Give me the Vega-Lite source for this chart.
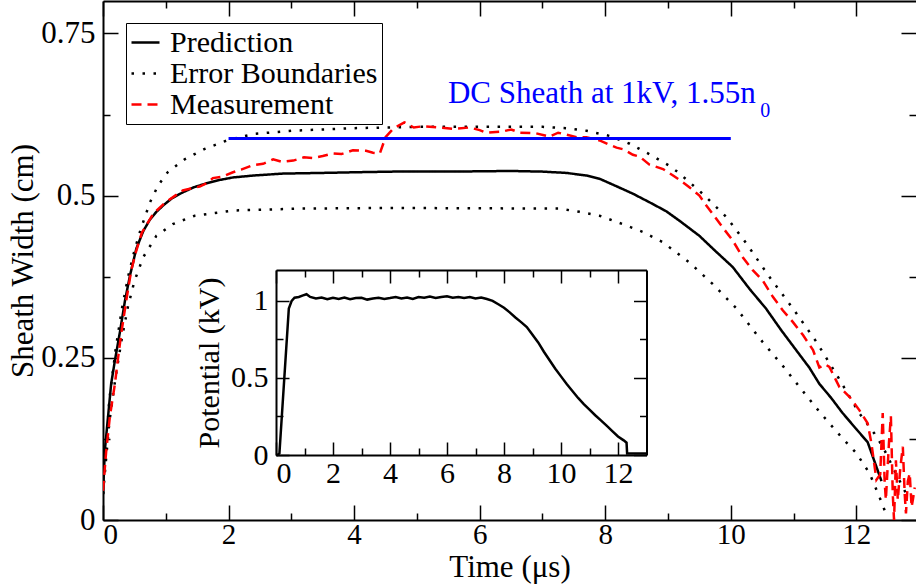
{
  "$schema": "https://vega.github.io/schema/vega-lite/v6.json",
  "width": 813,
  "height": 519,
  "autosize": {"type": "none"},
  "padding": {"left": 103, "top": 1, "right": 0, "bottom": 67},
  "background": "white",
  "config": {
    "view": {"stroke": null},
    "font": "Liberation Serif",
    "axis": {
      "grid": false,
      "domainColor": "black",
      "domainWidth": 2,
      "tickColor": "black",
      "tickWidth": 1.5,
      "labelColor": "black",
      "titleColor": "black",
      "labelFont": "Liberation Serif",
      "titleFont": "Liberation Serif",
      "labelFontSize": 31,
      "titleFontSize": 31,
      "titleFontWeight": "normal"
    },
    "text": {"font": "Liberation Serif"}
  },
  "datasets": {
    "sheath": [
      {"series": "Prediction", "curve": "pred", "t": 0, "w": 0.04},
      {"series": "Prediction", "curve": "pred", "t": 0.03, "w": 0.108},
      {"series": "Prediction", "curve": "pred", "t": 0.08, "w": 0.159},
      {"series": "Prediction", "curve": "pred", "t": 0.13, "w": 0.21},
      {"series": "Prediction", "curve": "pred", "t": 0.19, "w": 0.246},
      {"series": "Prediction", "curve": "pred", "t": 0.27, "w": 0.29},
      {"series": "Prediction", "curve": "pred", "t": 0.35, "w": 0.338},
      {"series": "Prediction", "curve": "pred", "t": 0.43, "w": 0.377},
      {"series": "Prediction", "curve": "pred", "t": 0.53, "w": 0.418},
      {"series": "Prediction", "curve": "pred", "t": 0.64, "w": 0.445},
      {"series": "Prediction", "curve": "pred", "t": 0.74, "w": 0.462},
      {"series": "Prediction", "curve": "pred", "t": 0.85, "w": 0.475},
      {"series": "Prediction", "curve": "pred", "t": 0.96, "w": 0.485},
      {"series": "Prediction", "curve": "pred", "t": 1.1, "w": 0.496},
      {"series": "Prediction", "curve": "pred", "t": 1.27, "w": 0.505},
      {"series": "Prediction", "curve": "pred", "t": 1.45, "w": 0.513},
      {"series": "Prediction", "curve": "pred", "t": 1.65, "w": 0.519},
      {"series": "Prediction", "curve": "pred", "t": 1.85, "w": 0.524},
      {"series": "Prediction", "curve": "pred", "t": 2.07, "w": 0.528},
      {"series": "Prediction", "curve": "pred", "t": 2.4, "w": 0.531},
      {"series": "Prediction", "curve": "pred", "t": 2.87, "w": 0.534},
      {"series": "Prediction", "curve": "pred", "t": 3.5, "w": 0.535},
      {"series": "Prediction", "curve": "pred", "t": 4.0, "w": 0.536},
      {"series": "Prediction", "curve": "pred", "t": 4.62, "w": 0.537},
      {"series": "Prediction", "curve": "pred", "t": 5.5, "w": 0.537},
      {"series": "Prediction", "curve": "pred", "t": 6.5, "w": 0.538},
      {"series": "Prediction", "curve": "pred", "t": 7.0, "w": 0.537},
      {"series": "Prediction", "curve": "pred", "t": 7.38, "w": 0.535},
      {"series": "Prediction", "curve": "pred", "t": 7.7, "w": 0.531},
      {"series": "Prediction", "curve": "pred", "t": 7.91, "w": 0.526},
      {"series": "Prediction", "curve": "pred", "t": 8.12, "w": 0.517},
      {"series": "Prediction", "curve": "pred", "t": 8.44, "w": 0.503},
      {"series": "Prediction", "curve": "pred", "t": 8.7, "w": 0.49},
      {"series": "Prediction", "curve": "pred", "t": 8.97, "w": 0.476},
      {"series": "Prediction", "curve": "pred", "t": 9.2, "w": 0.46},
      {"series": "Prediction", "curve": "pred", "t": 9.5, "w": 0.438},
      {"series": "Prediction", "curve": "pred", "t": 9.75, "w": 0.415},
      {"series": "Prediction", "curve": "pred", "t": 10.03, "w": 0.39},
      {"series": "Prediction", "curve": "pred", "t": 10.3, "w": 0.356},
      {"series": "Prediction", "curve": "pred", "t": 10.56, "w": 0.326},
      {"series": "Prediction", "curve": "pred", "t": 10.8, "w": 0.293},
      {"series": "Prediction", "curve": "pred", "t": 11.04, "w": 0.262},
      {"series": "Prediction", "curve": "pred", "t": 11.25, "w": 0.235},
      {"series": "Prediction", "curve": "pred", "t": 11.41, "w": 0.21},
      {"series": "Prediction", "curve": "pred", "t": 11.6, "w": 0.188},
      {"series": "Prediction", "curve": "pred", "t": 11.78, "w": 0.165},
      {"series": "Prediction", "curve": "pred", "t": 12.0, "w": 0.14},
      {"series": "Prediction", "curve": "pred", "t": 12.18, "w": 0.12},
      {"series": "Prediction", "curve": "pred", "t": 12.4, "w": 0.06},

      {"series": "Error Boundaries", "curve": "upper", "t": 0, "w": 0.04},
      {"series": "Error Boundaries", "curve": "upper", "t": 0.1, "w": 0.185},
      {"series": "Error Boundaries", "curve": "upper", "t": 0.2, "w": 0.262},
      {"series": "Error Boundaries", "curve": "upper", "t": 0.3, "w": 0.325},
      {"series": "Error Boundaries", "curve": "upper", "t": 0.4, "w": 0.375},
      {"series": "Error Boundaries", "curve": "upper", "t": 0.5, "w": 0.415},
      {"series": "Error Boundaries", "curve": "upper", "t": 0.6, "w": 0.448},
      {"series": "Error Boundaries", "curve": "upper", "t": 0.75, "w": 0.49},
      {"series": "Error Boundaries", "curve": "upper", "t": 0.88, "w": 0.516},
      {"series": "Error Boundaries", "curve": "upper", "t": 1.03, "w": 0.536},
      {"series": "Error Boundaries", "curve": "upper", "t": 1.3, "w": 0.556},
      {"series": "Error Boundaries", "curve": "upper", "t": 1.62, "w": 0.572},
      {"series": "Error Boundaries", "curve": "upper", "t": 2.0, "w": 0.586},
      {"series": "Error Boundaries", "curve": "upper", "t": 2.4, "w": 0.595},
      {"series": "Error Boundaries", "curve": "upper", "t": 3.0, "w": 0.6},
      {"series": "Error Boundaries", "curve": "upper", "t": 4.0, "w": 0.604},
      {"series": "Error Boundaries", "curve": "upper", "t": 5.0, "w": 0.606},
      {"series": "Error Boundaries", "curve": "upper", "t": 6.0, "w": 0.606},
      {"series": "Error Boundaries", "curve": "upper", "t": 7.0, "w": 0.606},
      {"series": "Error Boundaries", "curve": "upper", "t": 7.38, "w": 0.604},
      {"series": "Error Boundaries", "curve": "upper", "t": 7.7, "w": 0.6},
      {"series": "Error Boundaries", "curve": "upper", "t": 8.07, "w": 0.592},
      {"series": "Error Boundaries", "curve": "upper", "t": 8.39, "w": 0.58},
      {"series": "Error Boundaries", "curve": "upper", "t": 8.7, "w": 0.564},
      {"series": "Error Boundaries", "curve": "upper", "t": 9.02, "w": 0.546},
      {"series": "Error Boundaries", "curve": "upper", "t": 9.16, "w": 0.536},
      {"series": "Error Boundaries", "curve": "upper", "t": 9.55, "w": 0.503},
      {"series": "Error Boundaries", "curve": "upper", "t": 9.93, "w": 0.467},
      {"series": "Error Boundaries", "curve": "upper", "t": 10.25, "w": 0.426},
      {"series": "Error Boundaries", "curve": "upper", "t": 10.62, "w": 0.374},
      {"series": "Error Boundaries", "curve": "upper", "t": 10.99, "w": 0.326},
      {"series": "Error Boundaries", "curve": "upper", "t": 11.36, "w": 0.275},
      {"series": "Error Boundaries", "curve": "upper", "t": 11.68, "w": 0.225},
      {"series": "Error Boundaries", "curve": "upper", "t": 12.05, "w": 0.164},
      {"series": "Error Boundaries", "curve": "upper", "t": 12.29, "w": 0.133},
      {"series": "Error Boundaries", "curve": "upper", "t": 12.42, "w": 0.113},
      {"series": "Error Boundaries", "curve": "upper", "t": 12.63, "w": 0.072},
      {"series": "Error Boundaries", "curve": "upper", "t": 12.79, "w": 0.041},

      {"series": "Error Boundaries", "curve": "lower", "t": 0, "w": 0.04},
      {"series": "Error Boundaries", "curve": "lower", "t": 0.1, "w": 0.15},
      {"series": "Error Boundaries", "curve": "lower", "t": 0.2, "w": 0.22},
      {"series": "Error Boundaries", "curve": "lower", "t": 0.3, "w": 0.28},
      {"series": "Error Boundaries", "curve": "lower", "t": 0.4, "w": 0.33},
      {"series": "Error Boundaries", "curve": "lower", "t": 0.5, "w": 0.368},
      {"series": "Error Boundaries", "curve": "lower", "t": 0.64, "w": 0.405},
      {"series": "Error Boundaries", "curve": "lower", "t": 0.85, "w": 0.438},
      {"series": "Error Boundaries", "curve": "lower", "t": 1.11, "w": 0.456},
      {"series": "Error Boundaries", "curve": "lower", "t": 1.46, "w": 0.469},
      {"series": "Error Boundaries", "curve": "lower", "t": 2.07, "w": 0.477},
      {"series": "Error Boundaries", "curve": "lower", "t": 3.13, "w": 0.48},
      {"series": "Error Boundaries", "curve": "lower", "t": 4.6, "w": 0.481},
      {"series": "Error Boundaries", "curve": "lower", "t": 7.27, "w": 0.48},
      {"series": "Error Boundaries", "curve": "lower", "t": 7.59, "w": 0.475},
      {"series": "Error Boundaries", "curve": "lower", "t": 7.91, "w": 0.469},
      {"series": "Error Boundaries", "curve": "lower", "t": 8.28, "w": 0.456},
      {"series": "Error Boundaries", "curve": "lower", "t": 8.6, "w": 0.444},
      {"series": "Error Boundaries", "curve": "lower", "t": 8.92, "w": 0.428},
      {"series": "Error Boundaries", "curve": "lower", "t": 9.34, "w": 0.397},
      {"series": "Error Boundaries", "curve": "lower", "t": 9.71, "w": 0.364},
      {"series": "Error Boundaries", "curve": "lower", "t": 10.09, "w": 0.326},
      {"series": "Error Boundaries", "curve": "lower", "t": 10.51, "w": 0.274},
      {"series": "Error Boundaries", "curve": "lower", "t": 10.85, "w": 0.235},
      {"series": "Error Boundaries", "curve": "lower", "t": 11.07, "w": 0.208},
      {"series": "Error Boundaries", "curve": "lower", "t": 11.41, "w": 0.167},
      {"series": "Error Boundaries", "curve": "lower", "t": 11.76, "w": 0.128},
      {"series": "Error Boundaries", "curve": "lower", "t": 12.0, "w": 0.103},
      {"series": "Error Boundaries", "curve": "lower", "t": 12.21, "w": 0.072},
      {"series": "Error Boundaries", "curve": "lower", "t": 12.37, "w": 0.035},
      {"series": "Error Boundaries", "curve": "lower", "t": 12.45, "w": 0.015},

      {"series": "Measurement", "curve": "meas", "t": 0, "w": 0.045},
      {"series": "Measurement", "curve": "meas", "t": 0.05, "w": 0.105},
      {"series": "Measurement", "curve": "meas", "t": 0.11, "w": 0.16},
      {"series": "Measurement", "curve": "meas", "t": 0.19, "w": 0.21},
      {"series": "Measurement", "curve": "meas", "t": 0.24, "w": 0.25},
      {"series": "Measurement", "curve": "meas", "t": 0.29, "w": 0.287},
      {"series": "Measurement", "curve": "meas", "t": 0.37, "w": 0.338},
      {"series": "Measurement", "curve": "meas", "t": 0.45, "w": 0.385},
      {"series": "Measurement", "curve": "meas", "t": 0.53, "w": 0.415},
      {"series": "Measurement", "curve": "meas", "t": 0.62, "w": 0.443},
      {"series": "Measurement", "curve": "meas", "t": 0.8, "w": 0.472},
      {"series": "Measurement", "curve": "meas", "t": 1.0, "w": 0.49},
      {"series": "Measurement", "curve": "meas", "t": 1.15, "w": 0.5},
      {"series": "Measurement", "curve": "meas", "t": 1.27, "w": 0.508},
      {"series": "Measurement", "curve": "meas", "t": 1.4, "w": 0.511},
      {"series": "Measurement", "curve": "meas", "t": 1.54, "w": 0.514},
      {"series": "Measurement", "curve": "meas", "t": 1.65, "w": 0.519},
      {"series": "Measurement", "curve": "meas", "t": 1.75, "w": 0.527},
      {"series": "Measurement", "curve": "meas", "t": 1.9, "w": 0.529},
      {"series": "Measurement", "curve": "meas", "t": 2.07, "w": 0.536},
      {"series": "Measurement", "curve": "meas", "t": 2.2, "w": 0.54},
      {"series": "Measurement", "curve": "meas", "t": 2.39, "w": 0.547},
      {"series": "Measurement", "curve": "meas", "t": 2.55, "w": 0.549},
      {"series": "Measurement", "curve": "meas", "t": 2.71, "w": 0.556},
      {"series": "Measurement", "curve": "meas", "t": 2.85, "w": 0.552},
      {"series": "Measurement", "curve": "meas", "t": 3.03, "w": 0.554},
      {"series": "Measurement", "curve": "meas", "t": 3.2, "w": 0.559},
      {"series": "Measurement", "curve": "meas", "t": 3.34, "w": 0.558},
      {"series": "Measurement", "curve": "meas", "t": 3.5, "w": 0.561},
      {"series": "Measurement", "curve": "meas", "t": 3.66, "w": 0.565},
      {"series": "Measurement", "curve": "meas", "t": 3.8, "w": 0.564},
      {"series": "Measurement", "curve": "meas", "t": 3.98, "w": 0.57},
      {"series": "Measurement", "curve": "meas", "t": 4.19, "w": 0.569},
      {"series": "Measurement", "curve": "meas", "t": 4.3, "w": 0.566},
      {"series": "Measurement", "curve": "meas", "t": 4.41, "w": 0.565},
      {"series": "Measurement", "curve": "meas", "t": 4.5, "w": 0.59},
      {"series": "Measurement", "curve": "meas", "t": 4.62, "w": 0.603},
      {"series": "Measurement", "curve": "meas", "t": 4.8, "w": 0.613},
      {"series": "Measurement", "curve": "meas", "t": 4.95, "w": 0.605},
      {"series": "Measurement", "curve": "meas", "t": 5.1, "w": 0.607},
      {"series": "Measurement", "curve": "meas", "t": 5.36, "w": 0.605},
      {"series": "Measurement", "curve": "meas", "t": 5.57, "w": 0.603},
      {"series": "Measurement", "curve": "meas", "t": 5.84, "w": 0.605},
      {"series": "Measurement", "curve": "meas", "t": 6.0, "w": 0.601},
      {"series": "Measurement", "curve": "meas", "t": 6.1, "w": 0.597},
      {"series": "Measurement", "curve": "meas", "t": 6.37, "w": 0.599},
      {"series": "Measurement", "curve": "meas", "t": 6.5, "w": 0.602},
      {"series": "Measurement", "curve": "meas", "t": 6.64, "w": 0.597},
      {"series": "Measurement", "curve": "meas", "t": 6.9, "w": 0.596},
      {"series": "Measurement", "curve": "meas", "t": 7.11, "w": 0.591},
      {"series": "Measurement", "curve": "meas", "t": 7.25, "w": 0.597},
      {"series": "Measurement", "curve": "meas", "t": 7.38, "w": 0.594},
      {"series": "Measurement", "curve": "meas", "t": 7.55, "w": 0.59},
      {"series": "Measurement", "curve": "meas", "t": 7.7, "w": 0.59},
      {"series": "Measurement", "curve": "meas", "t": 7.91, "w": 0.585},
      {"series": "Measurement", "curve": "meas", "t": 8.05, "w": 0.579},
      {"series": "Measurement", "curve": "meas", "t": 8.18, "w": 0.574},
      {"series": "Measurement", "curve": "meas", "t": 8.3, "w": 0.571},
      {"series": "Measurement", "curve": "meas", "t": 8.44, "w": 0.563},
      {"series": "Measurement", "curve": "meas", "t": 8.55, "w": 0.56},
      {"series": "Measurement", "curve": "meas", "t": 8.7, "w": 0.548},
      {"series": "Measurement", "curve": "meas", "t": 8.92, "w": 0.541},
      {"series": "Measurement", "curve": "meas", "t": 9.08, "w": 0.531},
      {"series": "Measurement", "curve": "meas", "t": 9.2, "w": 0.523},
      {"series": "Measurement", "curve": "meas", "t": 9.34, "w": 0.513},
      {"series": "Measurement", "curve": "meas", "t": 9.5, "w": 0.5},
      {"series": "Measurement", "curve": "meas", "t": 9.6, "w": 0.486},
      {"series": "Measurement", "curve": "meas", "t": 9.71, "w": 0.472},
      {"series": "Measurement", "curve": "meas", "t": 9.87, "w": 0.451},
      {"series": "Measurement", "curve": "meas", "t": 10.03, "w": 0.431},
      {"series": "Measurement", "curve": "meas", "t": 10.19, "w": 0.405},
      {"series": "Measurement", "curve": "meas", "t": 10.35, "w": 0.385},
      {"series": "Measurement", "curve": "meas", "t": 10.51, "w": 0.369},
      {"series": "Measurement", "curve": "meas", "t": 10.67, "w": 0.344},
      {"series": "Measurement", "curve": "meas", "t": 10.83, "w": 0.323},
      {"series": "Measurement", "curve": "meas", "t": 10.99, "w": 0.305},
      {"series": "Measurement", "curve": "meas", "t": 11.15, "w": 0.285},
      {"series": "Measurement", "curve": "meas", "t": 11.31, "w": 0.262},
      {"series": "Measurement", "curve": "meas", "t": 11.41, "w": 0.235},
      {"series": "Measurement", "curve": "meas", "t": 11.5, "w": 0.24},
      {"series": "Measurement", "curve": "meas", "t": 11.57, "w": 0.236},
      {"series": "Measurement", "curve": "meas", "t": 11.73, "w": 0.205},
      {"series": "Measurement", "curve": "meas", "t": 11.89, "w": 0.19},
      {"series": "Measurement", "curve": "meas", "t": 12.05, "w": 0.169},
      {"series": "Measurement", "curve": "meas", "t": 12.18, "w": 0.149},
      {"series": "Measurement", "curve": "meas", "t": 12.24, "w": 0.118},
      {"series": "Measurement", "curve": "meas", "t": 12.32, "w": 0.062},
      {"series": "Measurement", "curve": "meas", "t": 12.38, "w": 0.07},
      {"series": "Measurement", "curve": "meas", "t": 12.42, "w": 0.165},
      {"series": "Measurement", "curve": "meas", "t": 12.45, "w": 0.06},
      {"series": "Measurement", "curve": "meas", "t": 12.47, "w": 0.031},
      {"series": "Measurement", "curve": "meas", "t": 12.52, "w": 0.12},
      {"series": "Measurement", "curve": "meas", "t": 12.55, "w": 0.16},
      {"series": "Measurement", "curve": "meas", "t": 12.58, "w": 0.04},
      {"series": "Measurement", "curve": "meas", "t": 12.6, "w": 0.0},
      {"series": "Measurement", "curve": "meas", "t": 12.63, "w": 0.092},
      {"series": "Measurement", "curve": "meas", "t": 12.66, "w": 0.031},
      {"series": "Measurement", "curve": "meas", "t": 12.7, "w": 0.08},
      {"series": "Measurement", "curve": "meas", "t": 12.74, "w": 0.113},
      {"series": "Measurement", "curve": "meas", "t": 12.77, "w": 0.04},
      {"series": "Measurement", "curve": "meas", "t": 12.79, "w": 0.01},
      {"series": "Measurement", "curve": "meas", "t": 12.82, "w": 0.06},
      {"series": "Measurement", "curve": "meas", "t": 12.85, "w": 0.072},
      {"series": "Measurement", "curve": "meas", "t": 12.88, "w": 0.02},
      {"series": "Measurement", "curve": "meas", "t": 12.9, "w": 0.031},
      {"series": "Measurement", "curve": "meas", "t": 12.93, "w": 0.05}
    ],
    "dc": [
      {"t": 2, "w": 0.588},
      {"t": 10, "w": 0.588}
    ],
    "potential": [
      {"t": 0, "v": 0.0},
      {"t": 0.05, "v": 0.0},
      {"t": 0.12, "v": 0.01},
      {"t": 0.45, "v": 0.95},
      {"t": 0.55, "v": 1.0},
      {"t": 0.65, "v": 1.02},
      {"t": 0.8, "v": 1.025},
      {"t": 0.95, "v": 1.035},
      {"t": 1.07, "v": 1.043},
      {"t": 1.2, "v": 1.025},
      {"t": 1.4, "v": 1.015},
      {"t": 1.6, "v": 1.022},
      {"t": 1.8, "v": 1.01},
      {"t": 2.0, "v": 1.02},
      {"t": 2.2, "v": 1.012},
      {"t": 2.4, "v": 1.022},
      {"t": 2.6, "v": 1.01},
      {"t": 2.8, "v": 1.018},
      {"t": 3.0, "v": 1.02},
      {"t": 3.2, "v": 1.008},
      {"t": 3.4, "v": 1.015},
      {"t": 3.6, "v": 1.02},
      {"t": 3.8, "v": 1.012},
      {"t": 4.0, "v": 1.018},
      {"t": 4.2, "v": 1.025},
      {"t": 4.4, "v": 1.015},
      {"t": 4.6, "v": 1.022},
      {"t": 4.8, "v": 1.012},
      {"t": 5.0, "v": 1.025},
      {"t": 5.2, "v": 1.02},
      {"t": 5.4, "v": 1.028},
      {"t": 5.6, "v": 1.018},
      {"t": 5.8, "v": 1.025},
      {"t": 6.0, "v": 1.03},
      {"t": 6.2, "v": 1.02},
      {"t": 6.4, "v": 1.025},
      {"t": 6.6, "v": 1.018},
      {"t": 6.8, "v": 1.025},
      {"t": 7.0, "v": 1.015},
      {"t": 7.2, "v": 1.022},
      {"t": 7.4, "v": 1.012},
      {"t": 7.6, "v": 1.0},
      {"t": 7.8, "v": 0.978},
      {"t": 8.0, "v": 0.955},
      {"t": 8.2, "v": 0.925},
      {"t": 8.4, "v": 0.892},
      {"t": 8.6, "v": 0.862},
      {"t": 8.8, "v": 0.83},
      {"t": 9.0, "v": 0.78},
      {"t": 9.2, "v": 0.73},
      {"t": 9.4, "v": 0.67},
      {"t": 9.6, "v": 0.615},
      {"t": 9.8, "v": 0.56},
      {"t": 10.0, "v": 0.51},
      {"t": 10.2, "v": 0.46},
      {"t": 10.4, "v": 0.415},
      {"t": 10.6, "v": 0.37},
      {"t": 10.8, "v": 0.33},
      {"t": 11.0, "v": 0.294},
      {"t": 11.2, "v": 0.258},
      {"t": 11.4, "v": 0.225},
      {"t": 11.6, "v": 0.19},
      {"t": 11.8, "v": 0.155},
      {"t": 12.0, "v": 0.12},
      {"t": 12.2, "v": 0.095},
      {"t": 12.3, "v": 0.08},
      {"t": 12.32, "v": 0.01},
      {"t": 12.6, "v": 0.01},
      {"t": 13, "v": 0.01}
    ]
  },
  "layer": [
    {
      "layer": [
        {
          "data": {"name": "sheath"},
          "mark": {"type": "line", "clip": true},
          "encoding": {
            "x": {
              "field": "t", "type": "quantitative",
              "scale": {"domain": [0, 12.95], "nice": false, "zero": false},
              "axis": {
                "orient": "bottom",
                "values": [0, 1, 2, 3, 4, 5, 6, 7, 8, 9, 10, 11, 12],
                "labelExpr": "datum.value % 2 === 0 ? format(datum.value, '~g') : ''",
                "tickSize": {"condition": {"test": "datum.value % 2 === 0", "value": -15}, "value": -7},
                "labelPadding": 15,
                "labelFontSize": 29,
                "title": "Time (μs)",
                "titlePadding": 3
              }
            },
            "y": {
              "field": "w", "type": "quantitative",
              "scale": {"domain": [0, 0.8], "nice": false},
              "axis": {
                "orient": "left",
                "values": [0, 0.125, 0.25, 0.375, 0.5, 0.625, 0.75],
                "labelExpr": "datum.value % 0.25 === 0 ? format(datum.value, '~g') : ''",
                "tickSize": {"condition": {"test": "datum.value % 0.25 === 0", "value": -15}, "value": -7},
                "labelPadding": 23,
                "title": "Sheath Width (cm)",
                "titlePadding": 1
              }
            },
            "color": {
              "field": "series", "type": "nominal",
              "scale": {"domain": ["Prediction", "Error Boundaries", "Measurement"], "range": ["#000000", "#000000", "#ff0000"]},
              "legend": {
                "orient": "none", "legendX": 23, "legendY": 22, "title": null,
                "strokeColor": "black", "padding": 4,
                "labelFontSize": 30, "labelFont": "Liberation Serif", "labelColor": "black", "labelLimit": 500,
                "symbolType": "stroke", "symbolSize": 784, "symbolStrokeWidth": 2.5,
                "labelOffset": 9, "rowPadding": 0
              }
            },
            "strokeDash": {
              "field": "series", "type": "nominal",
              "scale": {"domain": ["Prediction", "Error Boundaries", "Measurement"], "range": [[1, 0], [2.5, 8.5], [10, 6]]},
              "legend": {
                "orient": "none", "legendX": 23, "legendY": 22, "title": null,
                "strokeColor": "black", "padding": 4,
                "labelFontSize": 30, "labelFont": "Liberation Serif", "labelColor": "black", "labelLimit": 500,
                "symbolType": "stroke", "symbolSize": 784, "symbolStrokeWidth": 2.5,
                "labelOffset": 9, "rowPadding": 0
              }
            },
            "strokeWidth": {
              "field": "series", "type": "nominal",
              "scale": {"domain": ["Prediction", "Error Boundaries", "Measurement"], "range": [2.5, 2.5, 3]},
              "legend": null
            },
            "detail": {"field": "curve", "type": "nominal"}
          }
        },
        {
          "data": {"name": "dc"},
          "mark": {"type": "line", "color": "#0000ff", "strokeWidth": 3},
          "encoding": {
            "x": {"field": "t", "type": "quantitative"},
            "y": {"field": "w", "type": "quantitative"}
          }
        },
        {
          "data": {"values": [{}]},
          "mark": {"type": "text", "align": "left", "baseline": "alphabetic", "fontSize": 31, "color": "#0000ff"},
          "encoding": {
            "x": {"datum": 5.495},
            "y": {"datum": 0.6423},
            "text": {"value": "DC Sheath at 1kV, 1.55n"}
          }
        },
        {
          "data": {"values": [{}]},
          "mark": {"type": "text", "align": "left", "baseline": "alphabetic", "fontSize": 20, "color": "#0000ff"},
          "encoding": {
            "x": {"datum": 10.47},
            "y": {"datum": 0.6217},
            "text": {"value": "0"}
          }
        }
      ]
    },
    {
      "data": {"name": "potential"},
      "mark": {"type": "point", "opacity": 0, "clip": true},
      "encoding": {
        "x": {
          "field": "t", "type": "quantitative",
          "scale": {"domain": [0, 12.95], "nice": false, "zero": false},
          "axis": {
            "orient": "top",
            "values": [0, 1, 2, 3, 4, 5, 6, 7, 8, 9, 10, 11, 12],
            "labels": false,
            "tickSize": {"condition": {"test": "datum.value % 2 === 0", "value": -15}, "value": -7},
            "title": null
          }
        },
        "y": {
          "field": "v", "type": "quantitative",
          "scale": {"domain": [0, 0.8], "nice": false},
          "axis": {
            "orient": "right",
            "values": [0, 0.125, 0.25, 0.375, 0.5, 0.625, 0.75],
            "labels": false,
            "domain": false,
            "tickSize": {"condition": {"test": "datum.value % 0.25 === 0", "value": -15}, "value": -7},
            "title": null
          }
        }
      }
    },
    {
      "data": {"name": "potential"},
      "mark": {"type": "line", "color": "black", "strokeWidth": 2.5},
      "encoding": {
        "x": {
          "field": "t", "type": "quantitative",
          "scale": {"domain": [0, 13], "range": [173, 543.5], "nice": false, "zero": false},
          "axis": {
            "orient": "bottom",
            "offset": -65,
            "values": [0, 1, 2, 3, 4, 5, 6, 7, 8, 9, 10, 11, 12],
            "labelExpr": "datum.value % 2 === 0 ? format(datum.value, '~g') : ''",
            "tickSize": {"condition": {"test": "datum.value % 2 === 0", "value": -13}, "value": -7},
            "labelPadding": 16,
            "labelFontSize": 30,
            "title": null
          }
        },
        "y": {
          "field": "v", "type": "quantitative",
          "scale": {"domain": [0, 1.2], "range": [454, 269], "nice": false, "zero": false},
          "axis": {
            "orient": "left",
            "offset": -173,
            "values": [0, 0.25, 0.5, 0.75, 1],
            "labelExpr": "datum.value % 0.5 === 0 ? format(datum.value, '~g') : ''",
            "tickSize": {"condition": {"test": "datum.value % 0.5 === 0", "value": -13}, "value": -7},
            "labelPadding": 21,
            "labelFontSize": 30,
            "title": "Potential (kV)",
            "titleFontSize": 30,
            "titlePadding": 6
          }
        }
      }
    },
    {
      "data": {"name": "potential"},
      "mark": {"type": "point", "opacity": 0},
      "encoding": {
        "x": {
          "field": "t", "type": "quantitative",
          "scale": {"domain": [0, 13], "range": [173, 543.5], "nice": false, "zero": false},
          "axis": {
            "orient": "top",
            "offset": -269,
            "values": [0, 1, 2, 3, 4, 5, 6, 7, 8, 9, 10, 11, 12],
            "labels": false,
            "tickSize": {"condition": {"test": "datum.value % 2 === 0", "value": -13}, "value": -7},
            "title": null
          }
        },
        "y": {
          "field": "v", "type": "quantitative",
          "scale": {"domain": [0, 1.2], "range": [454, 269], "nice": false, "zero": false},
          "axis": {
            "orient": "right",
            "offset": -269.5,
            "values": [0, 0.25, 0.5, 0.75, 1],
            "labels": false,
            "tickSize": {"condition": {"test": "datum.value % 0.5 === 0", "value": -13}, "value": -7},
            "title": null
          }
        }
      }
    }
  ],
  "resolve": {
    "scale": {"x": "independent", "y": "independent"},
    "axis": {"x": "independent", "y": "independent"}
  }
}
